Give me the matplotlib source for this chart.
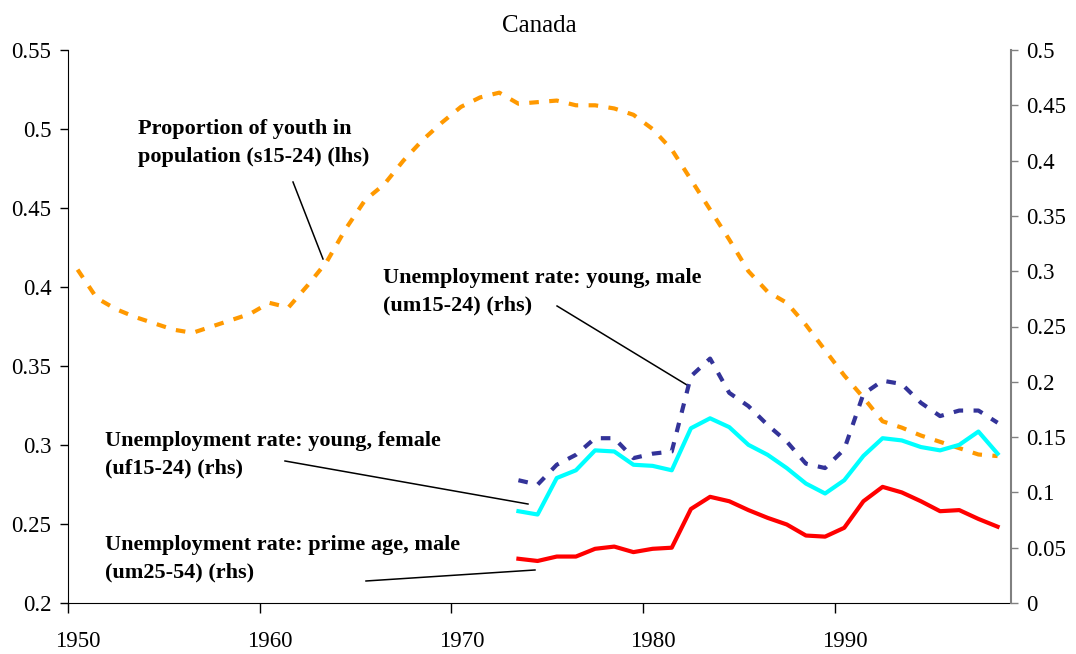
import numpy as np
import matplotlib
matplotlib.use("Agg")
import matplotlib.pyplot as plt
import matplotlib.transforms as mtransforms

plt.rcParams['font.family'] = ['Liberation Serif', 'DejaVu Serif']

# --- andmed (loetud pildilt) ---
youth_years = list(range(1950, 1999))
youth_share = [0.411, 0.393, 0.386, 0.381, 0.377, 0.373, 0.371, 0.375, 0.379, 0.383,
               0.390, 0.387, 0.401, 0.416, 0.437, 0.455, 0.465, 0.480, 0.493, 0.504,
               0.514, 0.520, 0.523, 0.516, 0.517, 0.518, 0.515, 0.515, 0.513, 0.509,
               0.500, 0.487, 0.468, 0.449, 0.430, 0.410, 0.397, 0.390, 0.376, 0.360,
               0.344, 0.330, 0.315, 0.311, 0.306, 0.302, 0.298, 0.294, 0.293]

unemp_years = list(range(1973, 1999))
um15_24 = [0.111, 0.107, 0.125, 0.134, 0.149, 0.149, 0.131, 0.135, 0.137, 0.205,
           0.221, 0.190, 0.178, 0.161, 0.146, 0.126, 0.122, 0.139, 0.189, 0.201,
           0.198, 0.181, 0.169, 0.174, 0.174, 0.163]
uf15_24 = [0.083, 0.080, 0.113, 0.120, 0.138, 0.137, 0.125, 0.124, 0.120, 0.158,
           0.167, 0.159, 0.143, 0.134, 0.122, 0.108, 0.099, 0.111, 0.133, 0.149,
           0.147, 0.141, 0.138, 0.143, 0.155, 0.135]
um25_54 = [0.040, 0.038, 0.042, 0.042, 0.049, 0.051, 0.046, 0.049, 0.050, 0.085,
           0.096, 0.092, 0.084, 0.077, 0.071, 0.061, 0.060, 0.068, 0.092, 0.105,
           0.100, 0.092, 0.083, 0.084, 0.076, 0.069]

left_ticks = [0.2, 0.25, 0.3, 0.35, 0.4, 0.45, 0.5, 0.55]
right_ticks = [0, 0.05, 0.1, 0.15, 0.2, 0.25, 0.3, 0.35, 0.4, 0.45, 0.5]
x_ticks = [1950, 1960, 1970, 1980, 1990]

# andmepunktid on aasta keskel
mid = 0.5

fig = plt.figure(figsize=(10.76, 6.54), dpi=100)
ax = fig.add_axes([68 / 1076, 1 - 603 / 654, 943 / 1076, 553 / 654])
ax2 = ax.twinx()

lw = 3.0
ax.plot(np.array(youth_years) + mid, youth_share, color='#FF9900', lw=lw,
        dashes=(2.3, 2.5))
ax2.plot(np.array(unemp_years) + mid, um15_24, color='#333399', lw=lw,
         dashes=(2.3, 2.5))
ax2.plot(np.array(unemp_years) + mid, uf15_24, color='#00FFFF', lw=lw)
ax2.plot(np.array(unemp_years) + mid, um25_54, color='#FF0000', lw=lw)

ax.set_xlim(1950, 1999.2)
ax.set_ylim(0.2, 0.55)
ax2.set_ylim(0, 0.5)

ax.set_xticks(x_ticks)
ax.set_yticks(left_ticks)
ax.set_yticklabels([f"{v:g}" for v in left_ticks])
ax2.set_yticks(right_ticks)
ax2.set_yticklabels([f"{v:g}" for v in right_ticks])

ax.tick_params(axis='x', direction='out', length=7, width=1, pad=13, labelsize=16.5)
ax.tick_params(axis='y', direction='out', length=6, width=1, pad=6, labelsize=16.5)
ax2.tick_params(axis='y', direction='out', length=5, width=1, pad=6, labelsize=16.5,
                color='#808080')

# Exceli stiilis nihutatud aastasildid
offset = mtransforms.ScaledTranslation(10 / 100, 0, fig.dpi_scale_trans)
for lab in ax.get_xticklabels():
    lab.set_transform(lab.get_transform() + offset)

ax.spines['top'].set_visible(False)
ax2.spines['top'].set_visible(False)
ax.spines['right'].set_visible(False)
ax2.spines['left'].set_visible(False)
ax2.spines['bottom'].set_visible(False)
ax2.spines['right'].set_color('#808080')
ax2.spines['right'].set_linewidth(1.5)

ax.set_title("Canada", fontsize=18, pad=13)

tkw = dict(transform=ax.transAxes, fontsize=16, fontweight='bold', ha='left',
           va='center', linespacing=1.55)
ax.text(0.0742, 0.832, "Proportion of youth in\npopulation (s15-24) (lhs)", **tkw)
ax.text(0.334, 0.563, "Unemployment rate: young, male\n(um15-24) (rhs)", **tkw)
ax.text(0.0392, 0.268, "Unemployment rate: young, female\n(uf15-24) (rhs)", **tkw)
ax.text(0.0392, 0.080, "Unemployment rate: prime age, male\n(um25-54) (rhs)", **tkw)

leaders = [((0.2386, 0.7613), (0.2704, 0.6221)),
           ((0.5186, 0.5371), (0.6564, 0.3942)),
           ((0.2301, 0.2568), (0.4878, 0.1790)),
           ((0.3160, 0.0398), (0.4952, 0.0597))]
for p0, p1 in leaders:
    ax.plot([p0[0], p1[0]], [p0[1], p1[1]], color='black', lw=1.1,
            transform=ax.transAxes, clip_on=False)

fig.savefig("out.png", dpi=100)
